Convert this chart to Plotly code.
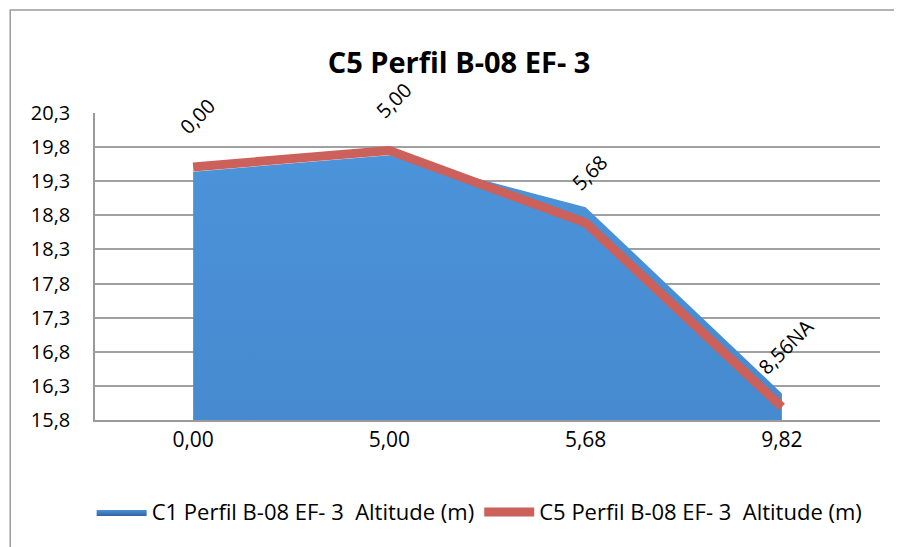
import plotly.graph_objects as go

# chart data
categories = ["0,00", "5,00", "5,68", "9,82"]
c1_altitude = [19.44, 19.68, 18.92, 16.19]
c5_altitude = [19.51, 19.75, 18.69, 15.99]
point_labels = ["0,00", "5,00", "5,68", "8,56NA"]
y_ticks = [15.8, 16.3, 16.8, 17.3, 17.8, 18.3, 18.8, 19.3, 19.8, 20.3]

FONT = "Open Sans"

fig = go.Figure()

fig.add_trace(go.Scatter(
    x=categories, y=c1_altitude,
    name="C1 Perfil B-08 EF- 3  Altitude (m)",
    mode="lines",
    line=dict(width=0, color="#4a8fd4"),
    fill="tozeroy",
    fillgradient=dict(type="vertical",
                      colorscale=[[0, "#3564a0"], [1, "#4b93da"]]),
    fillcolor="#4282c4",
))

fig.add_trace(go.Scatter(
    x=categories, y=c5_altitude,
    name="C5 Perfil B-08 EF- 3  Altitude (m)",
    mode="lines",
    line=dict(width=9, color="#cc605a"),
))

# rotated data labels (Excel style)
for cat, val, lab in zip(categories, c5_altitude, point_labels):
    fig.add_annotation(
        x=cat, y=val, text=lab, showarrow=False,
        textangle=-45, xanchor="center", yanchor="bottom",
        xshift=4, yshift=24,
        font=dict(family=FONT, size=20, color="black"),
    )

# outer chart border
fig.add_shape(type="rect", xref="paper", yref="paper",
              x0=-0.108, x1=1.2, y0=-0.6, y1=1.3355,
              line=dict(color="#9a9a9a", width=1.5), layer="below")

fig.update_layout(
    width=902, height=547,
    margin=dict(l=87, r=30, t=105, b=135),
    paper_bgcolor="white", plot_bgcolor="white",
    separators=",.",
    font=dict(family=FONT, size=20, color="black"),
    title=dict(text="<b>C5 Perfil B-08 EF- 3</b>", x=0.5, xanchor="center",
               y=0.9, yanchor="middle",
               font=dict(family=FONT, size=29, color="black")),
    showlegend=True,
    legend=dict(orientation="h", x=0.49, xanchor="center", y=-0.30,
                yanchor="middle", font=dict(family=FONT, size=22),
                itemwidth=50),
    xaxis=dict(type="category", range=[-0.5, 3.5], showgrid=False,
               showline=True, linecolor="#9a9a9a", linewidth=1.5,
               ticks="", tickfont=dict(size=21)),
    yaxis=dict(range=[15.8, 20.3], tickvals=y_ticks, tickformat=".1f",
               showgrid=True, gridcolor="#a0a0a0", gridwidth=1.5,
               showline=True, linecolor="#9a9a9a", linewidth=1.5,
               zeroline=False, ticks="", ticklabelstandoff=19,
               tickfont=dict(size=20)),
)

fig.write_html("out.html")
